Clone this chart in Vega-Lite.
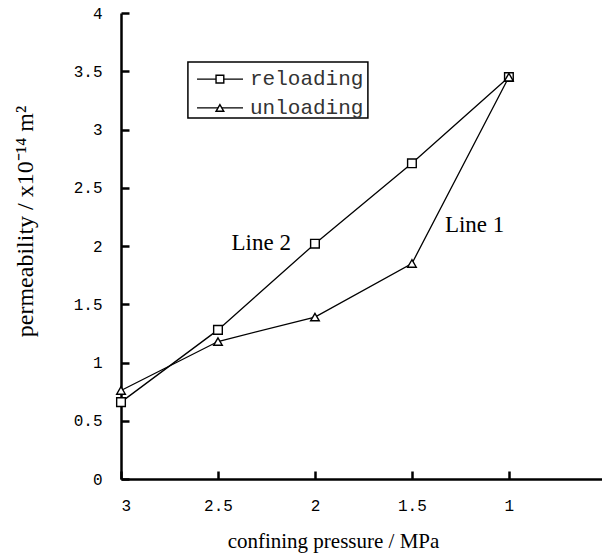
{
  "$schema": "https://vega.github.io/schema/vega-lite/v6.json",
  "width": 481,
  "height": 466,
  "autosize": {"type": "none"},
  "padding": {"left": 121, "top": 13, "right": 0, "bottom": 80},
  "background": "white",
  "config": {
    "view": {"stroke": null},
    "axis": {
      "grid": false,
      "domainColor": "black",
      "domainWidth": 2.5,
      "tickColor": "black",
      "tickWidth": 2.5,
      "tickSize": -8,
      "labelColor": "black",
      "labelFont": "Liberation Mono",
      "labelFontSize": 16,
      "format": "~g",
      "titleFont": "Liberation Serif",
      "titleFontSize": 21,
      "titleFontWeight": "normal",
      "titleColor": "black"
    }
  },
  "datasets": {
    "main": [
      {"pressure": 3, "k": 0.66, "series": "reloading"},
      {"pressure": 2.5, "k": 1.28, "series": "reloading"},
      {"pressure": 2, "k": 2.02, "series": "reloading"},
      {"pressure": 1.5, "k": 2.71, "series": "reloading"},
      {"pressure": 1, "k": 3.45, "series": "reloading"},
      {"pressure": 3, "k": 0.76, "series": "unloading"},
      {"pressure": 2.5, "k": 1.18, "series": "unloading"},
      {"pressure": 2, "k": 1.39, "series": "unloading"},
      {"pressure": 1.5, "k": 1.85, "series": "unloading"},
      {"pressure": 1, "k": 3.45, "series": "unloading"}
    ],
    "notes": [
      {"pressure": 2.43, "k": 2.03, "label": "Line 2"},
      {"pressure": 1.33, "k": 2.18, "label": "Line 1"}
    ],
    "legendbox": [
      {"x1": 2.655, "x2": 1.727, "y1": 3.58, "y2": 3.099}
    ],
    "legendrows": [
      {"series": "reloading", "xa": 2.608, "xb": 2.371, "xm": 2.49, "xt": 2.335, "y": 3.433},
      {"series": "unloading", "xa": 2.608, "xb": 2.371, "xm": 2.49, "xt": 2.335, "y": 3.185}
    ]
  },
  "layer": [
    {
      "data": {"name": "main"},
      "mark": {"type": "line", "color": "black", "strokeWidth": 1.3},
      "encoding": {
        "x": {
          "field": "pressure", "type": "quantitative",
          "scale": {"domain": [3, 0.52], "nice": false, "zero": false},
          "axis": {
            "values": [3, 2.5, 2, 1.5, 1],
            "title": "confining pressure / MPa",
            "labelPadding": 26,
            "titleX": 212,
            "titleY": 62,
            "titleBaseline": "middle",
            "titleAnchor": "middle"
          }
        },
        "y": {
          "field": "k", "type": "quantitative",
          "scale": {"domain": [0, 4], "nice": false},
          "axis": {
            "values": [0, 0.5, 1, 1.5, 2, 2.5, 3, 3.5, 4],
            "title": "permeability / x10⁻¹⁴ m²",
            "titleFontSize": 24,
            "labelPadding": 27,
            "titleX": -96,
            "titleY": 208,
            "titleBaseline": "middle",
            "titleAnchor": "middle"
          }
        },
        "detail": {"field": "series"}
      }
    },
    {
      "data": {"name": "main"},
      "mark": {"type": "point", "fill": "white", "stroke": "black", "strokeWidth": 1.4, "opacity": 1, "size": 75},
      "encoding": {
        "x": {"field": "pressure", "type": "quantitative"},
        "y": {"field": "k", "type": "quantitative"},
        "shape": {
          "field": "series", "type": "nominal",
          "scale": {"domain": ["reloading", "unloading"], "range": ["square", "triangle-up"]},
          "legend": null
        }
      }
    },
    {
      "data": {"name": "notes"},
      "mark": {"type": "text", "font": "Liberation Serif", "fontSize": 23, "align": "left", "baseline": "middle", "color": "black"},
      "encoding": {
        "x": {"field": "pressure", "type": "quantitative"},
        "y": {"field": "k", "type": "quantitative"},
        "text": {"field": "label"}
      }
    },
    {
      "data": {"name": "legendbox"},
      "mark": {"type": "rect", "fill": "white", "stroke": "black", "strokeWidth": 1.5},
      "encoding": {
        "x": {"field": "x1", "type": "quantitative"},
        "x2": {"field": "x2"},
        "y": {"field": "y1", "type": "quantitative"},
        "y2": {"field": "y2"}
      }
    },
    {
      "data": {"name": "legendrows"},
      "mark": {"type": "rule", "color": "black", "strokeWidth": 1.3},
      "encoding": {
        "x": {"field": "xa", "type": "quantitative"},
        "x2": {"field": "xb"},
        "y": {"field": "y", "type": "quantitative"}
      }
    },
    {
      "data": {"name": "legendrows"},
      "mark": {"type": "point", "fill": "white", "stroke": "black", "strokeWidth": 1.4, "opacity": 1, "size": 60},
      "encoding": {
        "x": {"field": "xm", "type": "quantitative"},
        "y": {"field": "y", "type": "quantitative"},
        "shape": {"field": "series", "type": "nominal", "legend": null}
      }
    },
    {
      "data": {"name": "legendrows"},
      "mark": {"type": "text", "font": "Liberation Mono", "fontSize": 21, "align": "left", "baseline": "middle", "color": "#333"},
      "encoding": {
        "x": {"field": "xt", "type": "quantitative"},
        "y": {"field": "y", "type": "quantitative"},
        "text": {"field": "series"}
      }
    }
  ]
}
